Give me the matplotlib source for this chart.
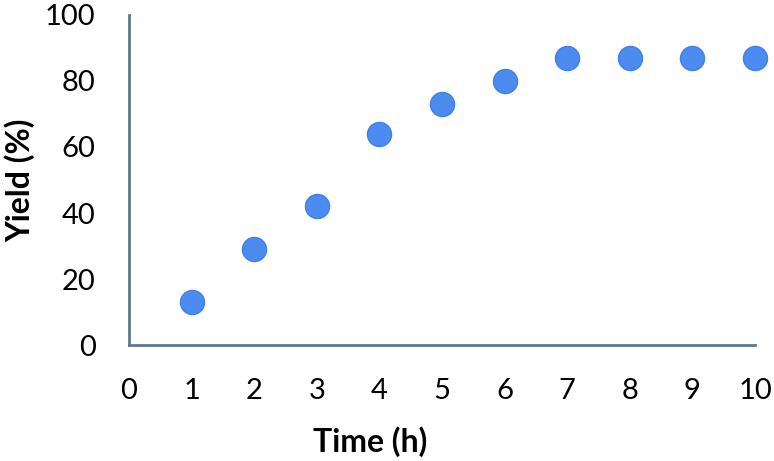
import matplotlib
matplotlib.use("Agg")
import matplotlib.pyplot as plt

time_h = [1, 2, 3, 4, 5, 6, 7, 8, 9, 10]
yield_pct = [13, 29, 42, 64, 73, 80, 87, 87, 87, 87]
x_ticks = list(range(0, 11))
y_ticks = [0, 20, 40, 60, 80, 100]

plt.rcParams["font.family"] = ["Lato", "DejaVu Sans"]

fig = plt.figure(figsize=(7.74, 4.61), dpi=100)
ax = fig.add_axes([0.1667, 0.2516, 0.8088, 0.7159])

ax.scatter(time_h, yield_pct, s=300, color="#4C8CF0", edgecolors="#3F7FE8",
           linewidths=1, clip_on=False, zorder=3)

ax.set_xlim(0, 10)
ax.set_ylim(0, 100)
ax.set_xticks(x_ticks)
ax.set_yticks(y_ticks)

for side in ["top", "right"]:
    ax.spines[side].set_visible(False)
for side in ["left", "bottom"]:
    ax.spines[side].set_color("#5E7A86")
    ax.spines[side].set_linewidth(2)

ax.tick_params(axis="both", length=0, labelsize=21, colors="black")
ax.tick_params(axis="x", pad=24)
ax.tick_params(axis="y", pad=24)

ax.set_xlabel("Time (h)", fontsize=23, fontweight="bold")
ax.set_ylabel("Yield (%)", fontsize=23, fontweight="bold")
ax.xaxis.set_label_coords(0.385, -0.245)
ax.yaxis.set_label_coords(-0.15, 0.5)

fig.savefig("out.png", dpi=100)
